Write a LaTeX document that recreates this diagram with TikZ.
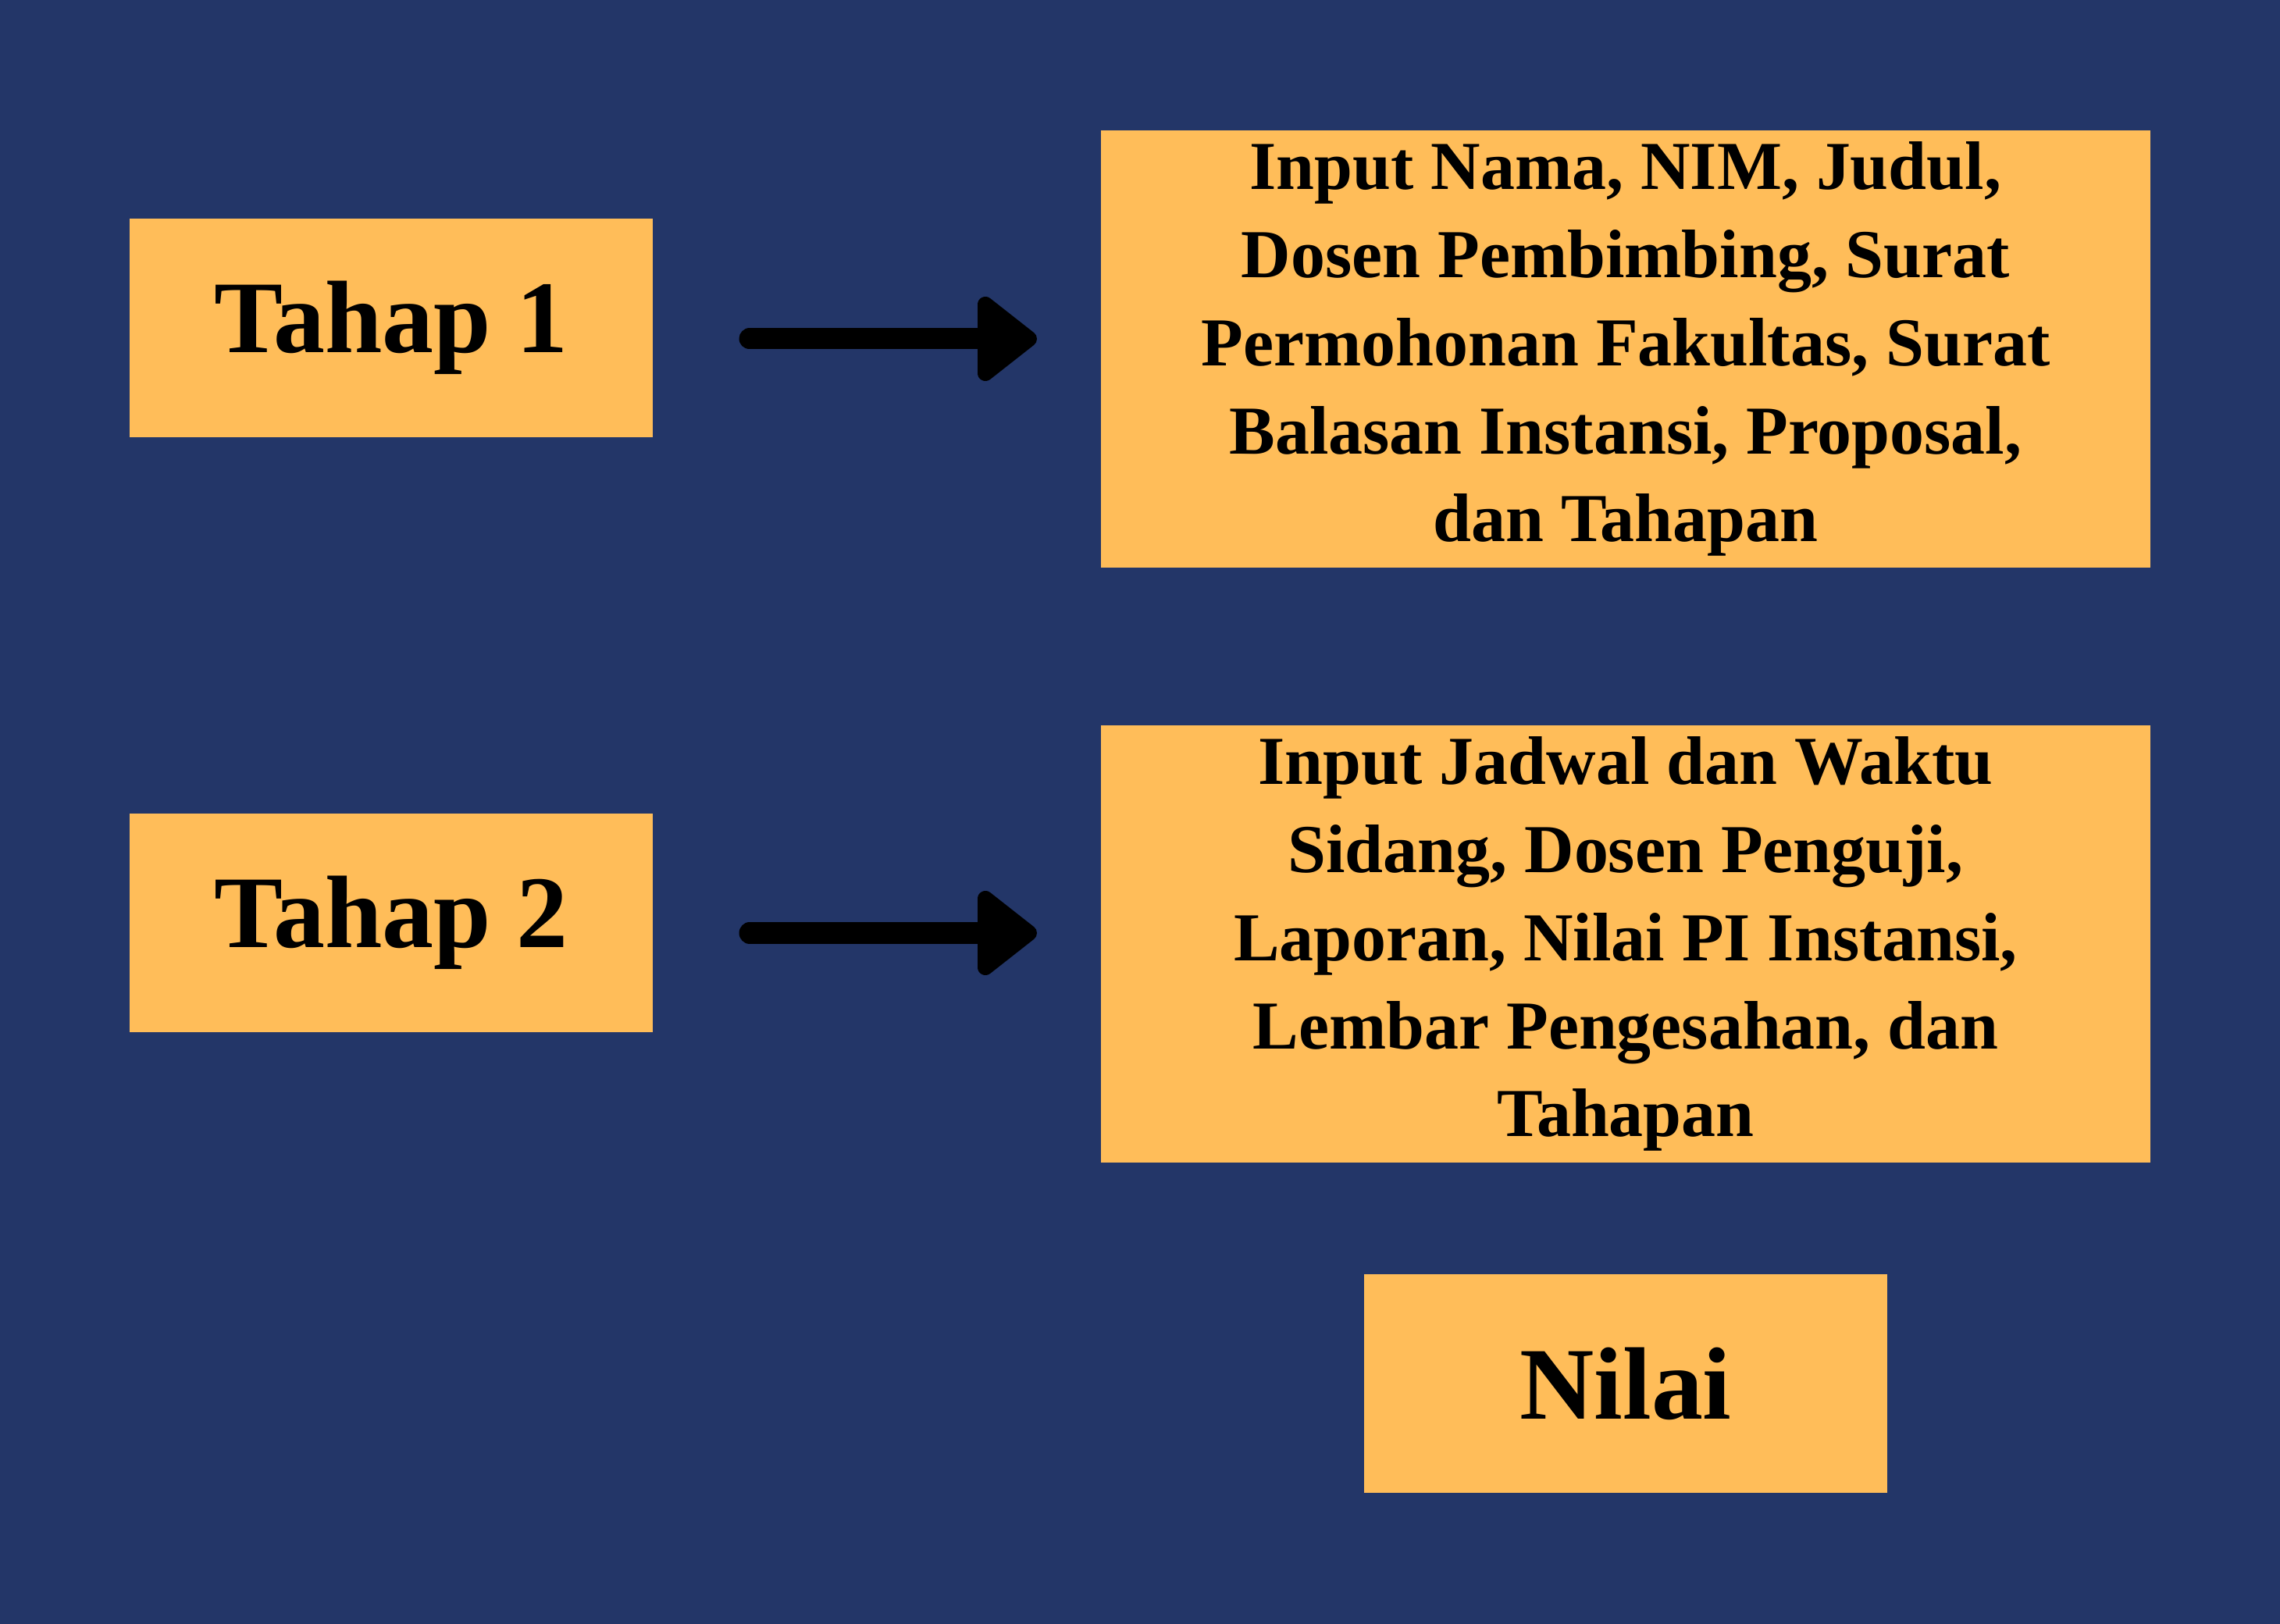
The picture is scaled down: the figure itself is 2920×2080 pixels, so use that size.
\documentclass[tikz,border=0pt]{standalone}
\usepackage{fontspec}
\setmainfont{Liberation Serif}
\definecolor{bgc}{HTML}{233668}
\definecolor{boxc}{HTML}{FFBD59}
\begin{document}
\begin{tikzpicture}[x=0.01cm,y=-0.01cm,
  boxst/.style={fill=boxc, inner sep=0pt, align=center, text=black},
  big/.style={boxst, minimum width=6.7cm, minimum height=2.79cm, font=\fontsize{37.5}{45}\selectfont\bfseries},
  wide/.style={boxst, minimum width=13.44cm, minimum height=5.6cm, font=\fontsize{25}{32.1}\selectfont\bfseries},
  shaft/.style={line width=0.27cm, line cap=round},
  headst/.style={fill=black, draw=black, line width=0.2cm, line join=round}]
\fill[bgc] (0,0) rectangle (2920,2080);
\useasboundingbox (0,0) rectangle (2920,2080);

\node[big] (t1) at (501,420) {Tahap 1};
\node[big] (t2) at (501,1182) {Tahap 2};
\node[wide] (r1) at (2082,447) {Input Nama, NIM, Judul,\\Dosen Pembimbing, Surat\\Permohonan Fakultas, Surat\\Balasan Instansi, Proposal,\\dan Tahapan};
\node[wide] (r2) at (2082,1209) {Input Jadwal dan Waktu\\Sidang, Dosen Penguji,\\Laporan, Nilai PI Instansi,\\Lembar Pengesahan, dan\\Tahapan};
\node[big] (n) at (2082,1772) {Nilai};

\coordinate (a1s) at (960,434);
\coordinate (a1e) at (1262,434);
\coordinate (a2s) at (960,1195);
\coordinate (a2e) at (1262,1195);
\draw[shaft] (a1s) -- (a1e);
\filldraw[headst] (a1e) ++(0,-44) -- ++(0,88) -- ++(56,-44) -- cycle;
\draw[shaft] (a2s) -- (a2e);
\filldraw[headst] (a2e) ++(0,-44) -- ++(0,88) -- ++(56,-44) -- cycle;
\end{tikzpicture}
\end{document}
